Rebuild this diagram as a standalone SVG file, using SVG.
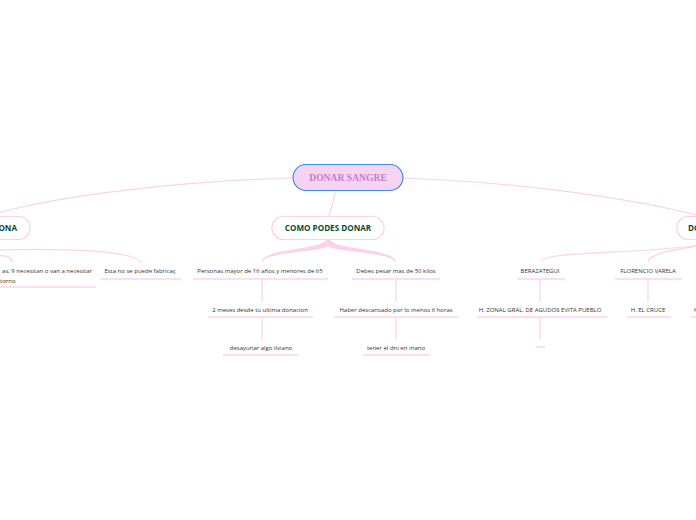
<svg xmlns="http://www.w3.org/2000/svg" width="696" height="520" viewBox="0 0 696 520">
<style>
.c{fill:none;stroke:#fbd3e6;stroke-width:1.2}
.ct{fill:#fbd3e6;stroke:none}
.u{stroke:#fbd3e6;stroke-width:1.5}
.t{font-family:"Open Sans","Liberation Sans",sans-serif;font-size:6px;fill:#333;text-anchor:middle}
.m{font-family:"Open Sans","Liberation Sans",sans-serif;font-size:8.1px;font-weight:bold;fill:#0f4a32;text-anchor:middle}
.b{fill:#fff;stroke:#fbd3e6;stroke-width:1.2}
</style>
<rect width="696" height="520" fill="#fff"/>
<g id="connectors">
<path class="c" d="M294,178 C180,181 60,195 -10,215"/>
<path class="c" d="M402,178 C520,182 630,198 706,217"/>
<path class="c" d="M336,190 L329,217"/>
<path class="ct" d="M326,239 L330,239 C332,250 395,248 396,262 L395,262 C392,252 332,252 328,246 C324,252 264,252 263,262 L262,262 C262,248 325,250 326,239 Z"/>
<path class="c" d="M-5,250 C60,248 135,250 141,263"/>
<path class="c" d="M-5,255 C10,256 12,258 12,262"/>
<path class="c" d="M706,244 C640,255 545,250 541,262"/>
<path class="c" d="M706,244 C680,250 650,252 648,262"/>
<path class="c" d="M262,279 L262,302"/>
<path class="c" d="M262,317 L262,340"/>
<path class="c" d="M396,279 L396,302"/>
<path class="c" d="M396,317 L396,340"/>
<path class="c" d="M540,279 L540,302"/>
<path class="c" d="M540,317 L540,340"/>
<path class="c" d="M648,279 L648,302"/>
</g>
<g id="root">
<rect x="293" y="164.5" width="110" height="26" rx="13" fill="#f6d2f3" stroke="#3d8fe0" stroke-width="1.2"/>
<text x="348" y="181" font-family="'Liberation Serif',serif" font-size="9.6" font-weight="bold" fill="#c47ec6" text-anchor="middle">DONAR SANGRE</text>
</g>
<g id="left-main">
<rect x="-60" y="216.5" width="90" height="23" rx="11" class="b"/>
<text x="17" y="231" class="m" style="text-anchor:end">ONA</text>
</g>
<g id="como">
<rect x="272" y="216.5" width="112" height="23" rx="11" class="b"/>
<text x="328" y="231" class="m">COMO PODES DONAR</text>
</g>
<g id="right-main">
<rect x="677" y="216.5" width="80" height="23" rx="11" class="b"/>
<text x="688" y="231" class="m" style="text-anchor:start">DO</text>
</g>
<g id="left-c1">
<text x="47" y="273" class="t">as, 9 necesitan o van a necesitar</text>
<text x="0" y="283" class="t" style="text-anchor:start">torno</text>
<line x1="-5" y1="287" x2="96" y2="287" class="u"/>
</g>
<g id="left-c2">
<text x="140" y="273" class="t">Esta no se puede fabricaç</text>
<line x1="100" y1="279" x2="181" y2="279" class="u"/>
</g>
<g id="n1">
<text x="260" y="273" class="t">Personas mayor de 16 años y menores de 65</text>
<line x1="193" y1="279" x2="328" y2="279" class="u"/>
</g>
<g id="n2">
<text x="396" y="273" class="t">Debes pesar mas de 50 kilos</text>
<line x1="352" y1="279" x2="440" y2="279" class="u"/>
</g>
<g id="n3">
<text x="260" y="312" class="t">2 meses desde tu ultima donacion</text>
<line x1="208" y1="317" x2="313" y2="317" class="u"/>
</g>
<g id="n4">
<text x="261" y="350" class="t">desayunar algo liviano</text>
<line x1="223" y1="355" x2="298" y2="355" class="u"/>
</g>
<g id="n5">
<text x="396" y="312" class="t">Haber descansado por lo menos 6 horas</text>
<line x1="334" y1="317" x2="458" y2="317" class="u"/>
</g>
<g id="n6">
<text x="396" y="350" class="t">tener el dni en mano</text>
<line x1="363" y1="355" x2="430" y2="355" class="u"/>
</g>
<g id="n7">
<text x="540" y="273" class="t">BERAZATEGUI</text>
<line x1="517" y1="279" x2="565" y2="279" class="u"/>
</g>
<g id="n8">
<text x="648" y="273" class="t">FLORENCIO VARELA</text>
<line x1="615" y1="279" x2="682" y2="279" class="u"/>
</g>
<g id="n9">
<text x="540" y="312" class="t">H. ZONAL GRAL. DE AGUDOS EVITA PUEBLO</text>
<line x1="477" y1="317" x2="607" y2="317" class="u"/>
</g>
<g id="n10">
<line x1="536" y1="347" x2="545" y2="347" class="u"/>
</g>
<g id="n11">
<text x="648" y="312" class="t">H. EL CRUCE</text>
<line x1="627" y1="317" x2="671" y2="317" class="u"/>
</g>
<g id="n12">
<text x="694" y="312" class="t" style="text-anchor:start">H</text>
<line x1="691" y1="317" x2="700" y2="317" class="u"/>
</g>
</svg>
